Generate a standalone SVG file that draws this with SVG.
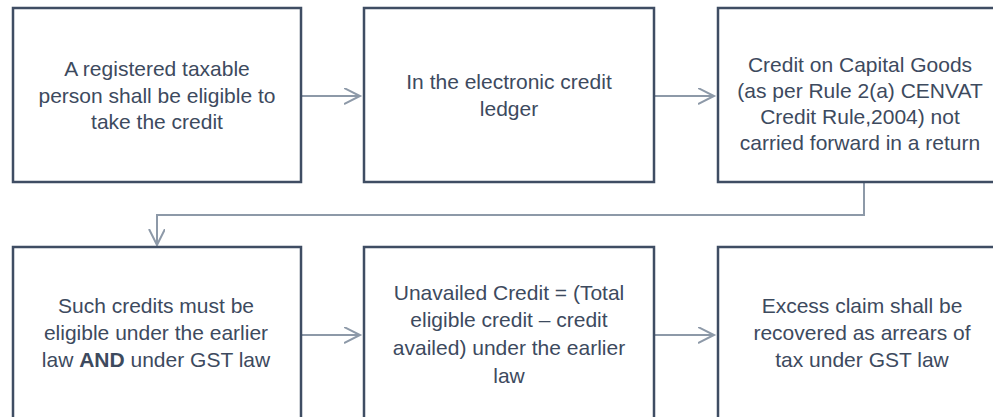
<svg xmlns="http://www.w3.org/2000/svg" width="993" height="417" viewBox="0 0 993 417">
<defs>
<style>
.box{fill:#fff;stroke:#3f4d63;stroke-width:2.5}
.t{font-family:"Liberation Sans",Arial,sans-serif;font-size:21px;fill:#3d4a5e;text-anchor:middle}
.c{fill:none;stroke:#8d99a8;stroke-width:2}
</style>
<marker id="ah" markerWidth="20" markerHeight="20" refX="16" refY="8" orient="auto" markerUnits="userSpaceOnUse">
<path d="M0,0 L16,8 L0,16" fill="none" stroke="#8d99a8" stroke-width="2"/>
</marker>
</defs>
<rect width="993" height="417" fill="#fff"/>
<g id="connectors">
<line class="c" x1="301" y1="96" x2="360" y2="96" marker-end="url(#ah)"/>
<line class="c" x1="655" y1="96" x2="714" y2="96" marker-end="url(#ah)"/>
<polyline class="c" points="864,182 864,215 157,215 157,245" marker-end="url(#ah)"/>
<line class="c" x1="301" y1="335" x2="360" y2="335" marker-end="url(#ah)"/>
<line class="c" x1="655" y1="335" x2="714" y2="335" marker-end="url(#ah)"/>
</g>
<g id="n1">
<rect class="box" x="13" y="8" width="288" height="174"/>
<text class="t" x="157" y="76">A registered taxable</text>
<text class="t" x="157" y="103">person shall be eligible to</text>
<text class="t" x="157" y="129">take the credit</text>
</g>
<g id="n2">
<rect class="box" x="364" y="8" width="290" height="174"/>
<text class="t" x="509" y="89">In the electronic credit</text>
<text class="t" x="509" y="116">ledger</text>
</g>
<g id="n3">
<rect class="box" x="718" y="8" width="290" height="174"/>
<text class="t" x="860" y="72">Credit on Capital Goods</text>
<text class="t" x="860" y="98">(as per Rule 2(a) CENVAT</text>
<text class="t" x="860" y="124">Credit Rule,2004) not</text>
<text class="t" x="860" y="150">carried forward in a return</text>
</g>
<g id="n4">
<rect class="box" x="13" y="247" width="288" height="174"/>
<text class="t" x="156" y="313">Such credits must be</text>
<text class="t" x="156" y="340">eligible under the earlier</text>
<text class="t" x="156" y="367">law <tspan font-weight="bold">AND</tspan> under GST law</text>
</g>
<g id="n5">
<rect class="box" x="364" y="247" width="290" height="174"/>
<text class="t" x="509" y="300">Unavailed Credit = (Total</text>
<text class="t" x="509" y="327">eligible credit – credit</text>
<text class="t" x="509" y="355">availed) under the earlier</text>
<text class="t" x="509" y="383">law</text>
</g>
<g id="n6">
<rect class="box" x="718" y="247" width="290" height="174"/>
<text class="t" x="862" y="313">Excess claim shall be</text>
<text class="t" x="862" y="340">recovered as arrears of</text>
<text class="t" x="862" y="367">tax under GST law</text>
</g>
</svg>
